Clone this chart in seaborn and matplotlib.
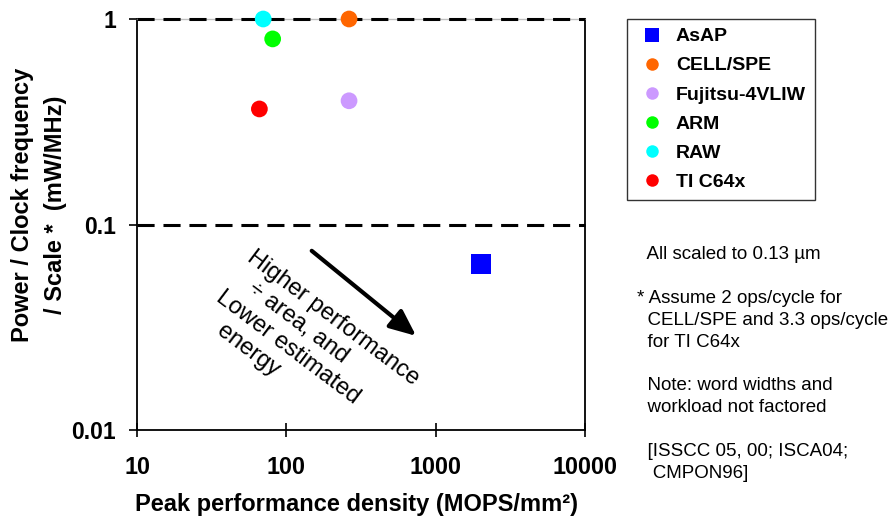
import matplotlib
matplotlib.use("Agg")
import matplotlib.pyplot as plt
from matplotlib.lines import Line2D
from matplotlib.ticker import NullLocator
import pandas as pd
import seaborn as sns

# ---- data ----
processors = ["AsAP", "CELL/SPE", "Fujitsu-4VLIW", "ARM", "RAW", "TI C64x"]
perf_density = [2010, 263, 263, 81, 70, 66]            # MOPS/mm^2
power_per_freq = [0.064, 1.0, 0.40, 0.80, 1.0, 0.365]  # mW/MHz (scaled)
colors = ["#0000FF", "#FF6600", "#CC99FF", "#00FF00", "#00FFFF", "#FF0000"]
markers = ["s", "o", "o", "o", "o", "o"]
x_ticks = [10, 100, 1000, 10000]
x_tick_labels = ["10", "100", "1000", "10000"]
y_ticks = [0.01, 0.1, 1]
y_tick_labels = ["0.01", "0.1", "1"]
ref_lines = [1, 0.1]

df = pd.DataFrame({"processor": processors, "density": perf_density,
                   "power": power_per_freq, "marker": markers})
palette = dict(zip(processors, colors))

sns.set_style("white")
plt.rcParams["font.family"] = ["Liberation Sans", "DejaVu Sans"]
plt.rcParams["text.color"] = "black"
plt.rcParams["axes.labelcolor"] = "black"
plt.rcParams["xtick.color"] = "black"
plt.rcParams["ytick.color"] = "black"

W, H = 888, 519
fig = plt.figure(figsize=(W / 100, H / 100), dpi=100)
ax = fig.add_axes([137 / W, 89 / H, 448 / W, 411 / H])
ax.set_xscale("log")
ax.set_yscale("log")
ax.set_xlim(10, 10000)
ax.set_ylim(0.01, 1)

for yv in ref_lines:
    ax.axhline(yv, color="black", lw=2.2, ls=(0, (5.6, 2.9)), zorder=2.7, clip_on=False)

circ = df[df.marker == "o"]
sq = df[df.marker == "s"]
sns.scatterplot(data=circ, x="density", y="power", hue="processor", palette=palette,
                marker="o", s=145, linewidth=0, legend=False, ax=ax, zorder=3, clip_on=False)
sns.scatterplot(data=sq, x="density", y="power", hue="processor", palette=palette,
                marker="s", s=190, linewidth=0, legend=False, ax=ax, zorder=3, clip_on=False)

ax.set_xticks(x_ticks, labels=x_tick_labels, fontweight="bold", fontsize=16.8)
ax.set_yticks(y_ticks, labels=y_tick_labels, fontweight="bold", fontsize=16.5)
ax.xaxis.set_minor_locator(NullLocator())
ax.yaxis.set_minor_locator(NullLocator())
ax.tick_params(axis="x", bottom=True, direction="inout", length=10, width=1.2, pad=13.5, colors="black")
ax.tick_params(axis="y", left=True, direction="out", length=6, width=1.2, pad=9, colors="black")

for side in ["left", "bottom", "right"]:
    ax.spines[side].set_color("black")
    ax.spines[side].set_linewidth(1.3)
ax.spines["top"].set_color("#c0c0c0")
ax.spines["top"].set_linewidth(1.0)

ax.set_xlabel("Peak performance density (MOPS/mm²)", fontsize=17, fontweight="bold")
ax.xaxis.label.set_va("baseline")
ax.xaxis.set_label_coords(0.49, -0.197)
ax.set_ylabel("Power / Clock frequency\n/ Scale *  (mW/MHz)", fontsize=17,
              fontweight="bold", linespacing=1.54)
ax.yaxis.set_label_coords(-0.156, 0.547)

# annotation (anchored at the baseline of the last line)
ax.text(0.145, 0.273, "Higher performance\n   ÷ area, and\nLower estimated\n   energy",
        transform=ax.transAxes, rotation=-37, rotation_mode="anchor",
        ha="left", va="baseline", fontsize=17, linespacing=1.2)
ax.annotate("", xy=(0.623, 0.229), xytext=(0.39, 0.436), xycoords="axes fraction",
            arrowprops=dict(arrowstyle="-|>,head_length=0.8,head_width=0.35", lw=3,
                            color="black", mutation_scale=20, shrinkA=0, shrinkB=0))

# legend
handles = [Line2D([], [], marker=m, color=c, linestyle="", markeredgewidth=0,
                  markersize=10 if m == "s" else 9) for m, c in zip(markers, colors)]
leg = ax.legend(handles, processors, loc="upper left",
                bbox_to_anchor=(626.7 / W, 1 - 19 / H), bbox_transform=fig.transFigure,
                borderaxespad=0, frameon=True, fancybox=False, edgecolor="black",
                prop={"weight": "bold", "size": 14}, labelspacing=0.59,
                handletextpad=0.33, borderpad=0.45, handlelength=1.75)
leg.get_frame().set_linewidth(1.0)

notes = ("  All scaled to 0.13 µm\n\n"
         "* Assume 2 ops/cycle for\n"
         "  CELL/SPE and 3.3 ops/cycle\n"
         "  for TI C64x\n\n"
         "  Note: word widths and\n"
         "  workload not factored\n\n"
         "  [ISSCC 05, 00; ISCA04;\n"
         "   CMPON96]")
fig.text(636.7 / W, 1 - 364 / H, notes, ha="left", va="center", fontsize=13.5,
         linespacing=1.37)

fig.savefig("out.png", dpi=100)
